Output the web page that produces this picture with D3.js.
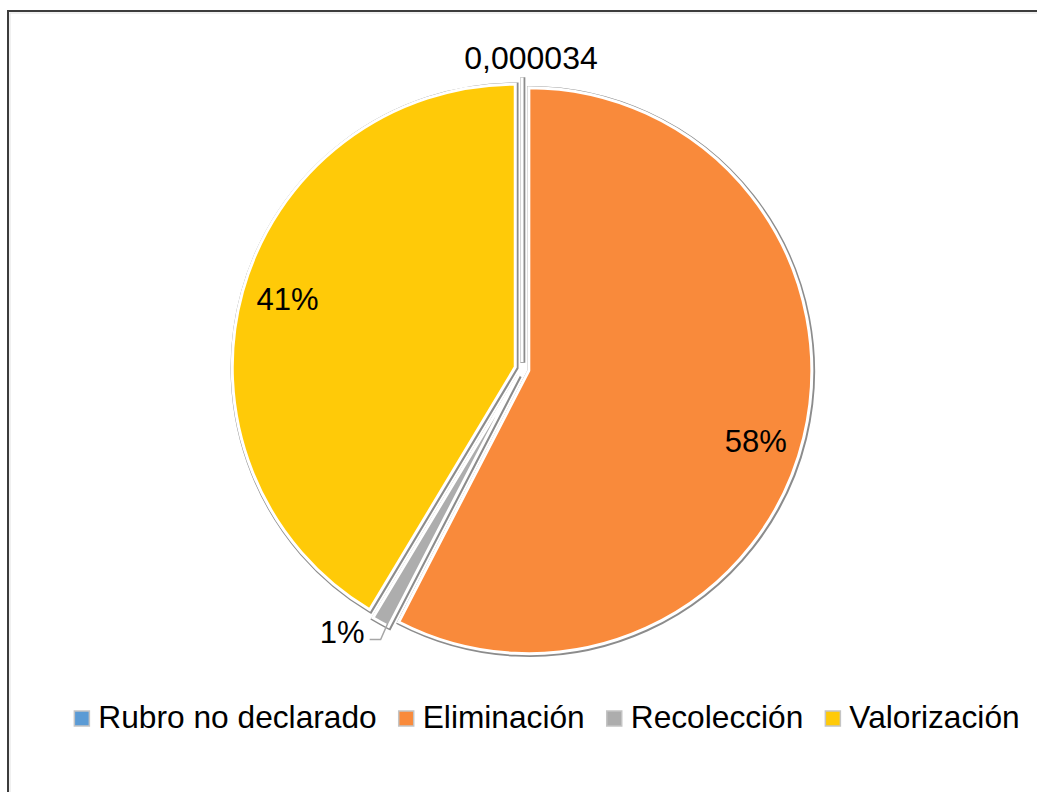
<!DOCTYPE html>
<html>
<head>
<meta charset="utf-8">
<script src="https://cdn.jsdelivr.net/npm/d3@7"></script>
<style>
body { margin: 0; background: #fff; }
text { font-family: "Liberation Sans", Arial, sans-serif; fill: #000; }
</style>
</head>
<body>
<div id="vis"></div>
<script>
// data (shares of the total)
const categories = ["Rubro no declarado", "Eliminación", "Recolección", "Valorización"];
const values = [0.000034, 0.576, 0.010, 0.414];
const colors = ["#5B9BD5", "#F98A3B", "#ADADAD", "#FFCA08"];

const w = 1037, h = 792;
const cx = 522, cy = 369, r = 283, explode = 7;

const svg = d3.select("#vis").append("svg")
  .attr("width", w)
  .attr("height", h);

// chart frame (right and bottom run off the picture)
svg.append("rect")
  .attr("x", 8).attr("y", 11)
  .attr("width", w + 40).attr("height", h + 40)
  .attr("fill", "#fff")
  .attr("stroke", "#3c3c3c")
  .attr("stroke-width", 2);
svg.append("rect")
  .attr("x", 10).attr("y", 13)
  .attr("width", w + 40).attr("height", h + 40)
  .attr("fill", "none")
  .attr("stroke", "#e2e2e2")
  .attr("stroke-width", 1);

const pie = d3.pie().sort(null).value(d => d);
const arcs = pie(values);
const arc = d3.arc().innerRadius(0).outerRadius(r);

function offset(d) {
  let a = (d.startAngle + d.endAngle) / 2;
  return [Math.sin(a) * explode, -Math.cos(a) * explode];
}

const g = svg.append("g").attr("transform", `translate(${cx},${cy})`);

// shadow / outline layer first
g.selectAll("path.shadow")
  .data(arcs)
  .enter()
  .append("path")
  .attr("class", "shadow")
  .attr("d", arc)
  .attr("transform", d => {
    let o = offset(d);
    return `translate(${o[0] + 0.8},${o[1] + 0.8})`;
  })
  .attr("fill", "none")
  .attr("stroke", "#8c8c8c")
  .attr("stroke-width", 5);

g.selectAll("path.slice")
  .data(arcs)
  .enter()
  .append("path")
  .attr("class", "slice")
  .attr("d", arc)
  .attr("transform", d => "translate(" + offset(d) + ")")
  .attr("fill", (d, i) => colors[i])
  .attr("stroke", "#fff")
  .attr("stroke-width", 3);

// data labels
const pct = d3.format(".0%");
function labelText(v) {
  return v < 0.001 ? String(v).replace(".", ",") : pct(v);
}

// inside labels for the two big slices (excel nudges them a bit)
const nudge = {1: 0.062, 3: 0.02};
[1, 3].forEach(i => {
  let d = arcs[i];
  let a = (d.startAngle + d.endAngle) / 2 + nudge[i];
  let o = offset(d);
  let rr = r * 0.84;
  g.append("text")
    .attr("x", o[0] + Math.sin(a) * rr)
    .attr("y", o[1] - Math.cos(a) * rr)
    .attr("dy", "0.36em")
    .attr("text-anchor", "middle")
    .style("font-size", "31px")
    .text(labelText(values[i]));
});

// tiny slice at the top: label outside
{
  let d = arcs[0];
  let o = offset(d);
  g.append("text")
    .attr("x", o[0] + 9)
    .attr("y", o[1] - r - 10)
    .attr("text-anchor", "middle")
    .style("font-size", "32px")
    .text(labelText(values[0]));
}

// small gray slice: label with leader line
{
  let d = arcs[2];
  let a = (d.startAngle + d.endAngle) / 2;
  let o = offset(d);
  let p0 = [o[0] + Math.sin(a) * (r - 2) + 6, o[1] - Math.cos(a) * (r - 2) + 3];
  let p1 = [p0[0] - 7, p0[1] + 16];
  let p2 = [p1[0] - 11, p1[1]];
  g.append("polyline")
    .attr("points", [p0, p1, p2].map(p => p.join(",")).join(" "))
    .attr("fill", "none")
    .attr("stroke", "#a6a6a6")
    .attr("stroke-width", 1.5);
  g.append("text")
    .attr("x", p2[0] - 5)
    .attr("y", p2[1] + 4)
    .attr("text-anchor", "end")
    .style("font-size", "31px")
    .text(labelText(values[2]));
}

// legend
const legend = svg.append("g");
const box = 15, gapText = 9, gapItem = 22, legendY = 728;
let items = legend.selectAll("g")
  .data(categories)
  .enter()
  .append("g");

items.append("rect")
  .attr("width", box)
  .attr("height", box)
  .attr("y", legendY - 17)
  .attr("fill", (d, i) => colors[i])
  .attr("stroke", "#c4c4c4")
  .attr("stroke-width", 1.5);

items.append("text")
  .attr("x", box + gapText)
  .attr("y", legendY)
  .style("font-size", "31.7px")
  .text(d => d);

let widths = [];
items.select("text").each(function() { widths.push(this.getComputedTextLength()); });
let total = d3.sum(widths) + categories.length * (box + gapText) + (categories.length - 1) * gapItem;
let xPos = 547 - total / 2;
items.attr("transform", (d, i) => {
  let x = xPos;
  xPos += box + gapText + widths[i] + gapItem;
  return `translate(${x},0)`;
});
</script>
</body>
</html>
